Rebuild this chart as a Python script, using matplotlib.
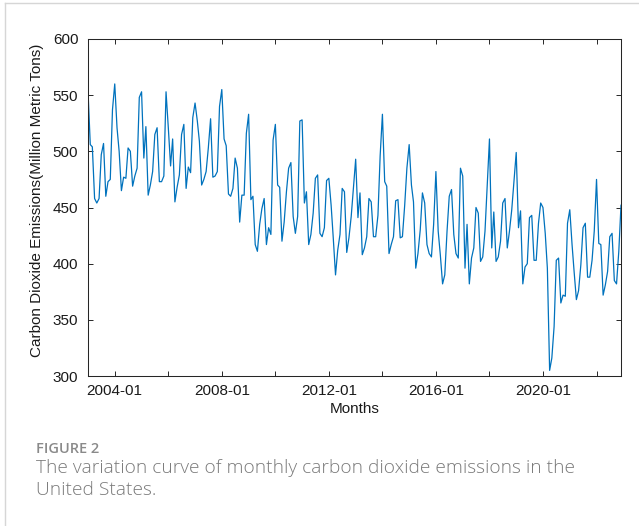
import matplotlib
matplotlib.use("Agg")
import matplotlib.pyplot as plt
import matplotlib.dates as mdates
from matplotlib.lines import Line2D
import pandas as pd

start_month = "2003-01"
emissions = [
    554, 506, 504, 458, 454, 458, 497, 507, 460, 473, 475, 537,
    560, 521, 500, 465, 477, 476, 503, 500, 469, 478, 485, 548,
    553, 494, 522, 461, 470, 482, 515, 521, 473, 473, 478, 553,
    521, 487, 511, 455, 468, 479, 515, 524, 467, 486, 481, 530,
    543, 527, 509, 470, 475, 482, 503, 529, 477, 478, 482, 540,
    555, 511, 505, 462, 460, 467, 494, 485, 437, 461, 461, 516,
    533, 457, 460, 417, 411, 435, 449, 458, 417, 432, 426, 510,
    524, 470, 468, 420, 437, 464, 485, 490, 442, 427, 442, 527,
    528, 454, 464, 417, 426, 445, 476, 479, 427, 424, 432, 474,
    476, 452, 423, 390, 412, 426, 467, 464, 410, 423, 442, 467,
    493, 441, 463, 408, 414, 424, 458, 455, 424, 424, 443, 496,
    533, 473, 469, 409, 417, 424, 456, 457, 423, 424, 452, 485,
    506, 470, 455, 396, 409, 430, 463, 454, 417, 409, 406, 435,
    482, 429, 408, 382, 390, 429, 460, 466, 426, 409, 405, 485,
    478, 396, 435, 382, 405, 414, 450, 445, 402, 406, 429, 470,
    511, 414, 446, 402, 406, 420, 454, 458, 414, 429, 448, 473,
    499, 432, 447, 382, 397, 400, 441, 443, 403, 403, 436, 454,
    450, 427, 396, 305, 316, 344, 403, 405, 365, 372, 371, 436,
    448, 417, 393, 368, 376, 399, 432, 436, 388, 388, 403, 429,
    475, 418, 417, 372, 381, 393, 424, 427, 385, 382, 411, 452,
]
y_ticks = [300, 350, 400, 450, 500, 550, 600]
x_label = "Months"
y_label = "Carbon Dioxide Emissions(Million Metric Tons)"
fig_label = "FIGURE 2"
caption_lines = [
    "The variation curve of monthly carbon dioxide emissions in the",
    "United States.",
]

months = pd.date_range(start_month, periods=len(emissions), freq="MS")

W, H = 639, 526
fig = plt.figure(figsize=(W / 100, H / 100), dpi=100)
fig.patch.set_facecolor("white")

ax_l, ax_r, ax_t, ax_b = 88, 621, 39, 376
ax = fig.add_axes([ax_l / W, 1 - ax_b / H, (ax_r - ax_l) / W, (ax_b - ax_t) / H])
ax.plot(months, emissions, color="#0072BD", lw=0.9)
ax.set_xlim(months[0], months[-1])
ax.set_ylim(y_ticks[0], y_ticks[-1])
ax.set_yticks(y_ticks)
ax.xaxis.set_major_locator(mdates.YearLocator(4))
ax.xaxis.set_minor_locator(mdates.YearLocator(2))
ax.xaxis.set_major_formatter(mdates.DateFormatter("%Y-%m"))

axis_col = "#262626"
for s in ax.spines.values():
    s.set_linewidth(0.75)
    s.set_color(axis_col)
ax.tick_params(which="both", direction="in", top=True, right=True,
               length=3.5, width=0.7, color=axis_col)
ax.tick_params(axis="x", which="major", pad=6, labelsize=11, labelcolor="#1a1a1a")
ax.tick_params(axis="y", which="major", pad=7, labelsize=11, labelcolor="#1a1a1a")
for lab in ax.get_xticklabels() + ax.get_yticklabels():
    lab.set_family("Liberation Sans")

fig.text(((ax_l + ax_r) / 2) / W, 1 - 409 / H, x_label, ha="center", va="center",
         fontsize=11, family="Liberation Sans", color="#1a1a1a")
fig.text(37 / W, 1 - 200 / H, y_label, ha="center", va="center", rotation=90,
         fontsize=11, family="Liberation Sans", color="#1a1a1a")

fig.text(36 / W, 1 - 453 / H, fig_label, ha="left", va="baseline",
         fontsize=10.5, family="Open Sans", weight="semibold", color="#8a8a8a")
for k, line in enumerate(caption_lines):
    fig.text(36 / W, 1 - (473 + 22 * k) / H, line, ha="left", va="baseline",
             fontsize=13.8, family="Open Sans", weight="light", color="#7a7a7a")

border_col = "#d6d6d6"
fig.add_artist(Line2D([4.5 / W, 4.5 / W], [0, 1 - 3 / H], transform=fig.transFigure,
                      color=border_col, lw=1.0))
fig.add_artist(Line2D([4.5 / W, 1], [1 - 3 / H, 1 - 3 / H], transform=fig.transFigure,
                      color=border_col, lw=1.0))

fig.savefig("out.png", dpi=100, facecolor="white")
